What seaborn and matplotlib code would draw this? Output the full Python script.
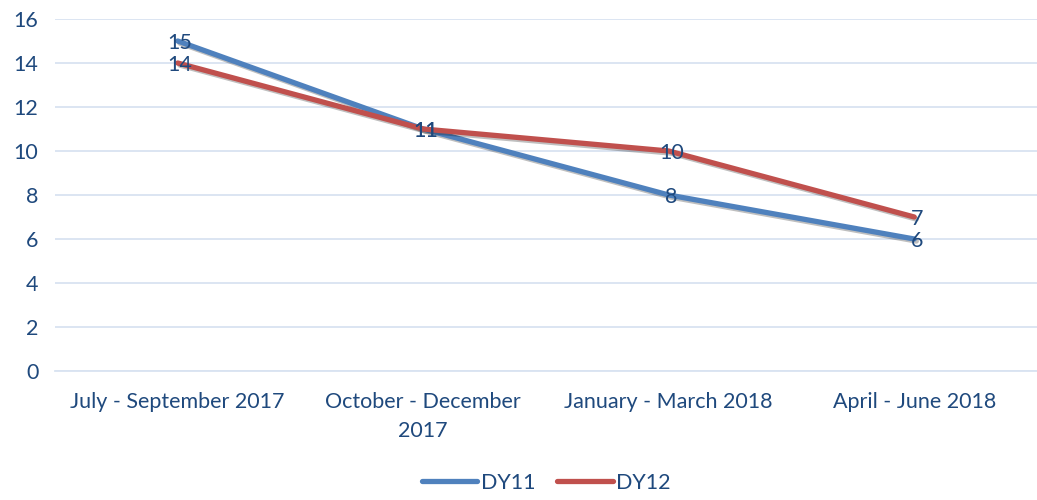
import pandas as pd
import numpy as np
import matplotlib
matplotlib.use('Agg')
import matplotlib.pyplot as plt
import matplotlib.patheffects as pe
import seaborn as sns

# --- data ---
quarters = ['July - September 2017', 'October - December\n2017',
            'January - March 2018', 'April - June 2018']
dy11 = [15, 11, 8, 6]
dy12 = [14, 11, 10, 7]

df = pd.DataFrame({
    'Quarter': quarters * 2,
    'Value': dy11 + dy12,
    'Series': ['DY11'] * 4 + ['DY12'] * 4,
})

sns.set_style('white')
plt.rcParams['font.family'] = ['Lato', 'DejaVu Sans']
text_col = '#1F497D'
grid_col = '#D9E3F1'
palette = {'DY11': '#4F81BD', 'DY12': '#C0504D'}
fs = 15.5

fig = plt.figure(figsize=(10.37, 5), dpi=100)
ax = fig.add_axes([0.053, 0.258, 0.947, 0.704])

sns.lineplot(data=df, x='Quarter', y='Value', hue='Series', palette=palette,
             linewidth=3.8, sort=False, ax=ax, solid_capstyle='round',
             path_effects=[pe.SimpleLineShadow(offset=(1.5, -1.5), alpha=0.25),
                           pe.Normal()])

# data labels
for vals in (dy11, dy12):
    for i, v in enumerate(vals):
        ax.text(i + 0.01, v - 0.1, str(v), ha='center', va='center', fontsize=fs,
                color=text_col, zorder=5)

ax.set_xlim(-0.5, 3.5)
ax.set_ylim(0, 16)
ax.set_yticks(np.arange(0, 17, 2))
ax.grid(axis='y', color=grid_col, linewidth=1.3)
ax.set_axisbelow(True)
for s in ['top', 'right', 'left']:
    ax.spines[s].set_visible(False)
ax.spines['bottom'].set_color(grid_col)
ax.spines['bottom'].set_linewidth(1.3)

ax.set_xticks(range(4))
ax.set_xticks(np.arange(-0.5, 3.6, 1), minor=True)
ax.tick_params(axis='x', which='major', length=0, pad=15, labelsize=fs,
               labelcolor=text_col)
ax.tick_params(axis='x', which='minor', length=7, width=1.3, color=grid_col)
ax.tick_params(axis='y', length=0, pad=12, labelsize=fs, labelcolor=text_col)
for lbl in ax.get_xticklabels():
    lbl.set_linespacing(1.55)
ax.set_xlabel('')
ax.set_ylabel('')

leg = ax.legend(loc='center', bbox_to_anchor=(0.5, -0.318), ncol=2,
                frameon=False, fontsize=fs, handlelength=2.6, handletextpad=0.15,
                columnspacing=1.0)
for t in leg.get_texts():
    t.set_color(text_col)
for h in leg.get_lines():
    h.set_linewidth(3.8)
    h.set_solid_capstyle('round')
    h.set_path_effects([])

fig.savefig('out.png', dpi=100)
